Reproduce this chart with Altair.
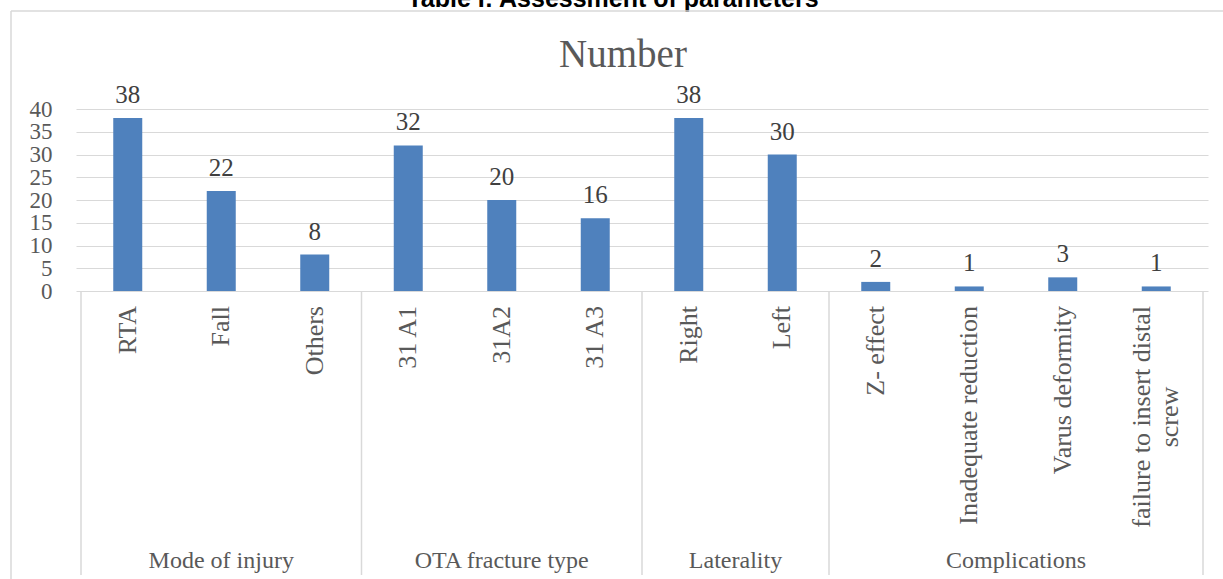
import altair as alt
import pandas as pd

categories = ["RTA", "Fall", "Others", "31 A1", "31A2", "31 A3", "Right", "Left",
              "Z- effect", "Inadequate reduction", "Varus deformity",
              "failure to insert distal screw"]
values = [38, 22, 8, 32, 20, 16, 38, 30, 2, 1, 3, 1]
groups = ["Mode of injury", "Mode of injury", "Mode of injury",
          "OTA fracture type", "OTA fracture type", "OTA fracture type",
          "Laterality", "Laterality",
          "Complications", "Complications", "Complications", "Complications"]
# label wrapping: first line / second line
label_line1 = ["RTA", "Fall", "Others", "31 A1", "31A2", "31 A3", "Right", "Left",
               "Z- effect", "Inadequate reduction", "Varus deformity",
               "failure to insert distal"]
label_line2 = ["", "", "", "", "", "", "", "", "", "", "", "screw"]
y_ticks = [0, 5, 10, 15, 20, 25, 30, 35, 40]
chart_title = "Number"
page_title = "Table I: Assessment of parameters"

SERIF = "Liberation Serif"
GRAY = "#595959"
LINE = "#d9d9d9"
W, H = 1132, 182

df = pd.DataFrame({
    "category": categories,
    "value": values,
    "group": groups,
    "line1": label_line1,
    "line2": label_line2,
})
df["pos"] = [i + 0.5 for i in range(len(df))]

# group spans
gstart, gend, gname = [], [], []
for i, g in enumerate(groups):
    if not gname or gname[-1] != g:
        gname.append(g)
        gstart.append(i)
        gend.append(i + 1)
    else:
        gend[-1] = i + 1
gdf = pd.DataFrame({"group": gname, "start": gstart, "end": gend})
gdf["center"] = (gdf["start"] + gdf["end"]) / 2
bdf = pd.DataFrame({"b": sorted(set(gstart) | set(gend))})

xscale = alt.Scale(domain=[0, len(categories)], nice=False, zero=False)
xenc = alt.X("pos:Q", scale=xscale, axis=None)

yaxis = alt.Axis(values=y_ticks, tickCount=len(y_ticks), grid=True, gridColor=LINE,
                 gridWidth=1.2, domain=False, ticks=False, labelFont=SERIF,
                 labelFontSize=23, labelColor=GRAY, labelPadding=24,
                 labelOverlap=False, title=None)
yscale = alt.Scale(domain=[0, 40], nice=False)
yenc = alt.Y("value:Q", scale=yscale, axis=yaxis)

bars = alt.Chart(df).mark_bar(color="#4f81bd", size=29).encode(x=xenc, y=yenc)

value_labels = alt.Chart(df).mark_text(
    dy=-15, baseline="alphabetic", font=SERIF, fontSize=25, color="#404040"
).encode(x=xenc, y=yenc, text="value:Q")

single = df[df["line2"] == ""]
double = df[df["line2"] != ""]

cat_labels = alt.Chart(single).mark_text(
    angle=270, align="right", baseline="middle", font=SERIF, fontSize=26, color=GRAY
).encode(x=xenc, y=alt.value(197), text="line1:N")

cat_labels2a = alt.Chart(double).mark_text(
    angle=270, align="right", baseline="middle", font=SERIF, fontSize=26, color=GRAY,
    dy=-14
).encode(x=xenc, y=alt.value(197), text="line1:N")

cat_labels2b = alt.Chart(double).mark_text(
    angle=270, align="center", baseline="middle", font=SERIF, fontSize=26, color=GRAY,
    dy=14, dx=-111
).encode(x=xenc, y=alt.value(197), text="line2:N")

group_labels = alt.Chart(gdf).mark_text(
    baseline="alphabetic", font=SERIF, fontSize=24, color=GRAY
).encode(x=alt.X("center:Q", scale=xscale, axis=None), y=alt.value(459), text="group:N")

separators = alt.Chart(bdf).mark_rule(color=LINE, strokeWidth=1.5).encode(
    x=alt.X("b:Q", scale=xscale, axis=None), y=alt.value(H), y2=alt.value(466)
)

tdf = pd.DataFrame({"t": [chart_title]})
title_mark = alt.Chart(tdf).mark_text(
    baseline="alphabetic", align="center", font=SERIF, fontSize=39, color=GRAY
).encode(x=alt.value(547), y=alt.value(-42), text="t:N")

pdf = pd.DataFrame({"t": [page_title]})
page_title_mark = alt.Chart(pdf).mark_text(
    baseline="alphabetic", align="center", font="Liberation Sans", fontSize=25,
    fontWeight="bold", color="#000000"
).encode(x=alt.value(537), y=alt.value(-102), text="t:N")

border_top = alt.Chart(tdf).mark_rule(color=LINE, strokeWidth=1.5).encode(
    x=alt.value(-65), x2=alt.value(1147), y=alt.value(-98)
)
border_left = alt.Chart(tdf).mark_rule(color=LINE, strokeWidth=1.5).encode(
    x=alt.value(-65), y=alt.value(-98), y2=alt.value(470)
)

chart = alt.layer(
    bars, value_labels, cat_labels, cat_labels2a, cat_labels2b, group_labels,
    separators, title_mark, page_title_mark, border_top, border_left
).properties(
    width=W, height=H,
    autosize=alt.AutoSizeParams(type="none"),
    padding={"left": 76, "top": 109, "right": 15, "bottom": 288},
    background="white",
).configure_view(stroke=None)

chart.save("out.html", embed_options={"renderer": "svg", "actions": False})
